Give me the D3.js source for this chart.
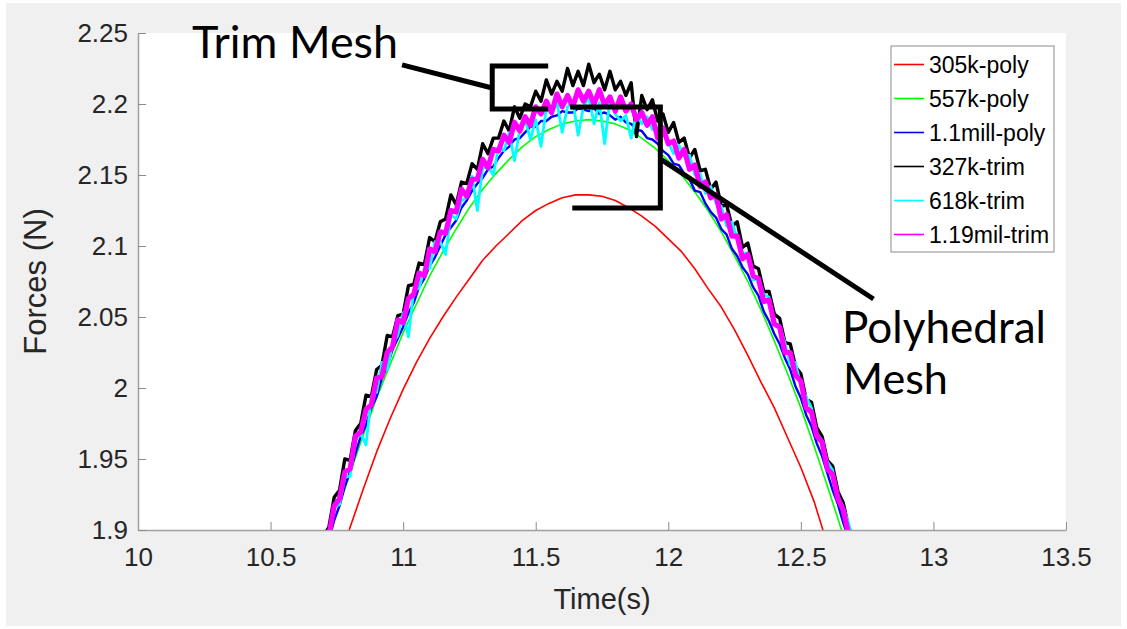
<!DOCTYPE html>
<html>
<head>
<meta charset="utf-8">
<script src="https://cdn.jsdelivr.net/npm/d3@7"></script>
<style>
  body { margin: 0; background: #ffffff; }
  svg { display: block; }
</style>
</head>
<body>
<svg id="chart" width="1127" height="629"></svg>
<script>
// ---- data -------------------------------------------------------------
// shared sampling instants for the dense (noisy) runs: 10.70 s .. 12.70 s every 0.02 s
const denseTimes = d3.range(101).map(i => +(10.70 + i * 0.02).toFixed(2));
// sampling instants of the smooth runs
const greenTimes = d3.range(41).map(i => +(10.70 + i * 0.05).toFixed(2));
const redTimes = d3.range(38).map(i => +(10.75 + i * 0.05).toFixed(2));

const red305kPoly = [1.872,1.902,1.929,1.955,1.978,1.999,2.018,2.035,2.050,2.064,
  2.077,2.090,2.100,2.109,2.118,2.125,2.130,2.134,2.136,2.136,
  2.135,2.132,2.127,2.121,2.114,2.105,2.096,2.084,2.070,2.057,
  2.041,2.023,2.004,1.986,1.965,1.944,1.920,1.890];

const green557kPoly = [1.882,1.912,1.940,1.967,1.993,2.016,2.039,2.059,2.079,2.096,
  2.112,2.127,2.140,2.151,2.161,2.170,2.177,2.182,2.186,2.188,
  2.189,2.188,2.186,2.182,2.176,2.169,2.160,2.150,2.138,2.125,
  2.110,2.093,2.075,2.055,2.033,2.010,1.986,1.959,1.931,1.902,1.871];

const blue1_1millPoly = [1.881,1.893,1.907,1.917,1.931,1.941,1.954,1.966,1.974,1.986,
  1.994,2.007,2.015,2.027,2.035,2.043,2.053,2.060,2.071,2.077,
  2.086,2.092,2.100,2.108,2.113,2.118,2.127,2.132,2.139,2.144,
  2.148,2.154,2.156,2.162,2.167,2.170,2.175,2.176,2.180,2.184,
  2.184,2.188,2.188,2.191,2.192,2.195,2.194,2.194,2.197,2.196,
  2.195,2.197,2.193,2.194,2.192,2.189,2.191,2.187,2.186,2.182,
  2.181,2.176,2.175,2.172,2.167,2.164,2.158,2.157,2.151,2.147,
  2.139,2.138,2.130,2.124,2.120,2.112,2.108,2.098,2.093,2.085,
  2.080,2.071,2.065,2.054,2.047,2.038,2.031,2.021,2.013,2.001,
  1.993,1.981,1.973,1.961,1.952,1.940,1.928,1.918,1.905,1.894,
  1.881];

const black327kTrim = [1.896,1.902,1.923,1.928,1.950,1.949,1.970,1.975,1.995,1.994,
  2.013,2.016,2.037,2.036,2.051,2.052,2.072,2.073,2.088,2.087,
  2.106,2.103,2.117,2.119,2.136,2.129,2.145,2.144,2.158,2.154,
  2.172,2.165,2.176,2.176,2.188,2.181,2.198,2.190,2.200,2.198,
  2.209,2.202,2.217,2.207,2.216,2.209,2.225,2.213,2.223,2.213,
  2.228,2.215,2.221,2.210,2.223,2.210,2.216,2.206,2.215,2.177,
  2.206,2.196,2.203,2.188,2.193,2.180,2.187,2.173,2.176,2.162,
  2.168,2.153,2.154,2.140,2.145,2.128,2.129,2.114,2.117,2.099,
  2.102,2.086,2.084,2.068,2.068,2.052,2.049,2.032,2.031,2.015,
  2.010,1.992,1.990,1.972,1.966,1.949,1.945,1.927,1.919,1.902,
  1.893];

const cyan618kTrim = [1.888,1.896,1.916,1.918,1.937,1.938,1.963,1.968,1.960,1.994,
  1.997,2.018,2.013,2.031,2.037,2.053,2.036,2.069,2.070,2.084,
  2.084,2.103,2.103,2.094,2.122,2.119,2.132,2.134,2.149,2.125,
  2.155,2.156,2.150,2.170,2.167,2.180,2.160,2.182,2.189,2.175,
  2.189,2.170,2.197,2.193,2.201,2.180,2.198,2.202,2.178,2.198,
  2.205,2.186,2.201,2.172,2.203,2.193,2.188,2.192,2.176,2.193,
  2.186,2.191,2.182,2.183,2.184,2.173,2.165,2.171,2.163,2.164,
  2.150,2.151,2.137,2.142,2.130,2.128,2.114,2.117,2.105,2.095,
  2.095,2.076,2.077,2.066,2.064,2.046,2.044,2.032,2.016,2.018,
  2.001,1.994,1.986,1.968,1.963,1.948,1.942,1.924,1.916,1.905,
  1.890];

const magenta1_19milTrim = [1.890,1.896,1.917,1.922,1.941,1.943,1.966,1.969,1.985,1.988,
  2.007,2.008,2.025,2.029,2.048,2.046,2.063,2.066,2.081,2.079,
  2.098,2.096,2.110,2.109,2.125,2.124,2.140,2.135,2.147,2.147,
  2.161,2.155,2.168,2.167,2.178,2.173,2.187,2.181,2.191,2.185,
  2.198,2.193,2.202,2.194,2.207,2.198,2.206,2.198,2.210,2.202,
  2.209,2.200,2.210,2.199,2.205,2.195,2.205,2.195,2.200,2.189,
  2.194,2.185,2.191,2.176,2.183,2.172,2.174,2.162,2.168,2.154,
  2.157,2.142,2.145,2.134,2.136,2.119,2.122,2.107,2.107,2.091,
  2.094,2.079,2.077,2.061,2.062,2.045,2.043,2.025,2.025,2.009,
  2.005,1.986,1.983,1.966,1.962,1.943,1.939,1.922,1.914,1.897,
  1.889];

const seriesNames = ["305k-poly", "557k-poly", "1.1mill-poly", "327k-trim", "618k-trim", "1.19mil-trim"];
const seriesColors = ["#ff0000", "#00ff00", "#0000ff", "#000000", "#00ffff", "#ff00ff"];

const xTickValues = [10, 10.5, 11, 11.5, 12, 12.5, 13, 13.5];
const xTickLabels = ["10", "10.5", "11", "11.5", "12", "12.5", "13", "13.5"];
const yTickValues = [1.9, 1.95, 2.0, 2.05, 2.1, 2.15, 2.2, 2.25];
const yTickLabels = ["1.9", "1.95", "2", "2.05", "2.1", "2.15", "2.2", "2.25"];

// ---- layout -----------------------------------------------------------
const plot = { left: 138, right: 1066, top: 33, bottom: 530 };
const svg = d3.select("#chart");

svg.append("rect").attr("x", 6).attr("y", 3).attr("width", 1115).attr("height", 623)
  .attr("fill", "#f0f0f0");
svg.append("rect").attr("x", plot.left).attr("y", plot.top)
  .attr("width", plot.right - plot.left).attr("height", plot.bottom - plot.top)
  .attr("fill", "#ffffff");

const x = d3.scaleLinear().domain([10, 13.5]).range([plot.left, plot.right]);
const y = d3.scaleLinear().domain([1.9, 2.25]).range([plot.bottom, plot.top]);

svg.append("defs").append("clipPath").attr("id", "plotClip")
  .append("rect").attr("x", plot.left).attr("y", plot.top)
  .attr("width", plot.right - plot.left).attr("height", plot.bottom - plot.top);

// ---- series -----------------------------------------------------------
const series = [
  { times: redTimes, values: red305kPoly, width: 1.6 },
  { times: greenTimes, values: green557kPoly, width: 1.6 },
  { times: denseTimes, values: blue1_1millPoly, width: 2.4 },
  { times: denseTimes, values: black327kTrim, width: 3.4 },
  { times: denseTimes, values: cyan618kTrim, width: 2.8 },
  { times: denseTimes, values: magenta1_19milTrim, width: 5.2 }
];

const line = d3.line().x(d => x(d[0])).y(d => y(d[1]));
const curves = svg.append("g").attr("clip-path", "url(#plotClip)");
series.forEach((s, i) => {
  curves.append("path")
    .datum(s.times.map((t, k) => [t, s.values[k]]))
    .attr("d", line)
    .attr("fill", "none")
    .attr("stroke", seriesColors[i])
    .attr("stroke-width", s.width)
    .attr("stroke-linejoin", "round");
});

// ---- axes -------------------------------------------------------------
const axisFont = "'Liberation Sans', Arial, Helvetica, sans-serif";
const xAxis = d3.axisBottom(x).tickValues(xTickValues)
  .tickFormat((d, i) => xTickLabels[i]).tickSizeInner(-8).tickSizeOuter(0).tickPadding(18);
const yAxis = d3.axisLeft(y).tickValues(yTickValues)
  .tickFormat((d, i) => yTickLabels[i]).tickSizeInner(-8).tickSizeOuter(0).tickPadding(10);

const gx = svg.append("g").attr("transform", `translate(0,${plot.bottom})`).call(xAxis);
const gy = svg.append("g").attr("transform", `translate(${plot.left},0)`).call(yAxis);
[gx, gy].forEach(g => {
  g.select(".domain").attr("stroke", "#a0a0a0").attr("stroke-width", 1.5);
  g.selectAll(".tick line").attr("stroke", "#8c8c8c").attr("stroke-width", 1);
  g.selectAll(".tick text").attr("fill", "#262626")
    .style("font-family", axisFont).style("font-size", "26px");
});

svg.append("text").attr("x", (plot.left + plot.right) / 2).attr("y", 609)
  .attr("text-anchor", "middle").attr("fill", "#262626")
  .style("font-family", axisFont).style("font-size", "29px").text("Time(s)");
svg.append("text")
  .attr("transform", `translate(46,${(plot.top + plot.bottom) / 2}) rotate(-90)`)
  .attr("text-anchor", "middle").attr("fill", "#262626")
  .style("font-family", axisFont).style("font-size", "31px").text("Forces (N)");

// ---- legend -----------------------------------------------------------
const legend = svg.append("g");
legend.append("rect").attr("x", 891).attr("y", 46).attr("width", 163).attr("height", 206)
  .attr("fill", "#ffffff").attr("stroke", "#8c8c8c").attr("stroke-width", 1);
seriesNames.forEach((name, i) => {
  const cy = 64.5 + i * 34;
  legend.append("line").attr("x1", 894).attr("x2", 924).attr("y1", cy).attr("y2", cy)
    .attr("stroke", seriesColors[i]).attr("stroke-width", 1.6);
  legend.append("text").attr("x", 929).attr("y", cy).attr("dy", "0.36em")
    .attr("fill", "#000").style("font-family", axisFont).style("font-size", "23px").text(name);
});

// ---- callouts ---------------------------------------------------------
const callouts = svg.append("g").attr("fill", "none").attr("stroke", "#000")
  .attr("stroke-width", 5).attr("stroke-linejoin", "miter");
const poly = pts => d3.line()(pts.map(p => [x(p[0]), y(p[1])]));
// trim-mesh bracket and leader
callouts.append("path").attr("d", poly([[11.547, 2.2268], [11.336, 2.2268], [11.336, 2.1965], [11.547, 2.1965]]));
callouts.append("path").attr("d", poly([[10.996, 2.2275], [11.336, 2.2113]]));
// polyhedral-mesh bracket and leader
callouts.append("path").attr("d", poly([[11.630, 2.1979], [11.970, 2.1979], [11.970, 2.1268], [11.638, 2.1268]]));
callouts.append("path").attr("d", poly([[11.975, 2.1606], [12.774, 2.0627]]));

const noteFont = "Lato, 'Open Sans', sans-serif";
function fittedText(str, left, baseline, width) {
  const t = svg.append("text").attr("x", left).attr("y", baseline).attr("fill", "#000")
    .style("font-family", noteFont).style("font-size", "40px").text(str);
  const w = t.node().getComputedTextLength();
  t.style("font-size", (40 * width / w).toFixed(2) + "px");
  return t;
}
fittedText("Trim Mesh", 192, 58, 206);
fittedText("Polyhedral", 842, 343, 204);
fittedText("Mesh", 843, 394, 105);
</script>
</body>
</html>
